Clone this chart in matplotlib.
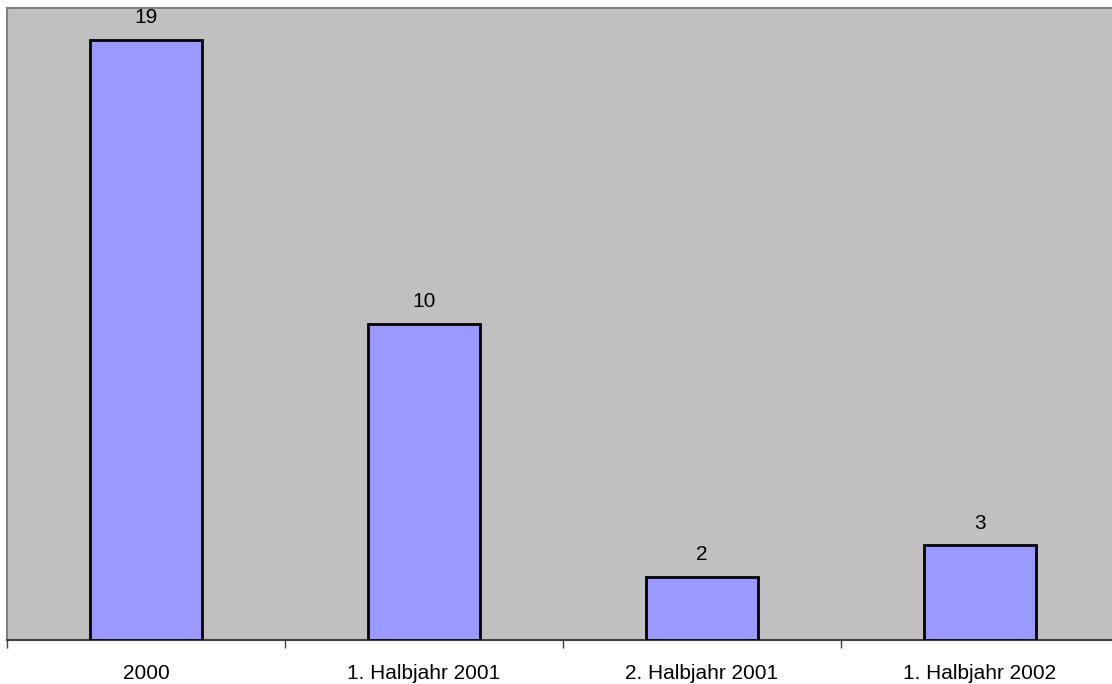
import numpy as np
import matplotlib.pyplot as plt

categories = ["2000", "1. Halbjahr 2001", "2. Halbjahr 2001", "1. Halbjahr 2002"]
values = [19, 10, 2, 3]

plt.rcParams['font.family'] = ['Liberation Sans', 'DejaVu Sans']

fig = plt.figure(figsize=(11.12, 6.84), dpi=100)
W, H = 1112, 684
# plot area: left 7px, top 8px, bottom 640px, 278px per category
ax = fig.add_axes([7 / W, (H - 640) / H, 4 * 278 / W, (640 - 8) / H])
ax.set_facecolor('#c0c0c0')

x = np.arange(len(categories))
ax.bar(x, values, width=0.4, color='#9999ff', edgecolor='black', linewidth=2, zorder=3)
ax.set_xlim(-0.5, len(categories) - 0.5)
ax.set_ylim(0, 20)

for xi, v in zip(x, values):
    ax.annotate(str(v), (xi, v), xytext=(0, 12), textcoords='offset points',
                ha='center', va='baseline', fontsize=15)

ax.set_yticks([])
ax.set_xticks(np.arange(-0.5, len(categories), 1.0))
ax.set_xticklabels([])
ax.set_xticks(x, minor=True)
ax.set_xticklabels(categories, minor=True, fontsize=15)
ax.tick_params(axis='x', which='major', direction='out', length=6, color='#404040', width=1)
ax.tick_params(axis='x', which='minor', length=0, pad=17)

for side in ['left', 'top', 'right']:
    ax.spines[side].set_color('#808080')
    ax.spines[side].set_linewidth(1.5)
ax.spines['bottom'].set_color('#404040')
ax.spines['bottom'].set_linewidth(1.5)

fig.savefig('out.png', dpi=100, facecolor='white')
